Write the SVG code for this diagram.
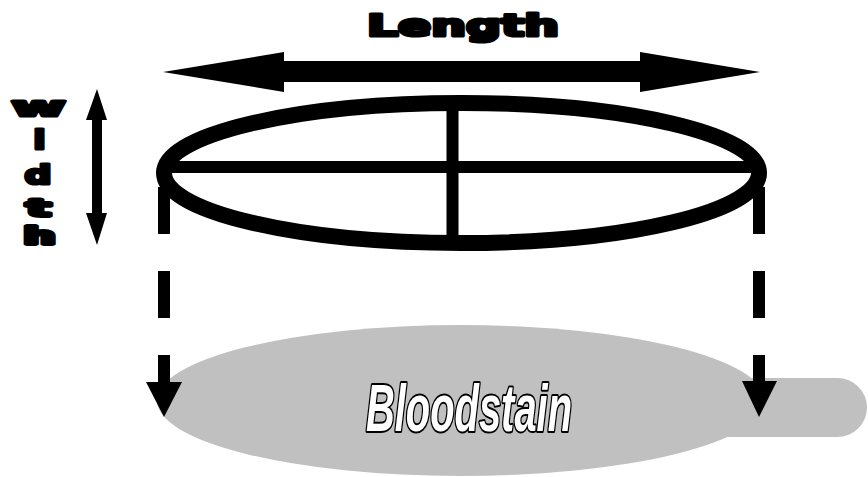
<svg xmlns="http://www.w3.org/2000/svg" width="868" height="477" viewBox="0 0 868 477">
  <style>
    .heavy { font-family: "DejaVu Sans", "Liberation Sans", sans-serif; font-weight: bold; fill: #000; stroke: #000; stroke-width: 3.2; stroke-linejoin: round; }
    .stain { fill: #c0c0c0; }
    .ink { fill: #000; }
    .dash { stroke: #000; stroke-width: 12; stroke-dasharray: 47 37; fill: none; }
    .label { font-family: "Liberation Sans", Arial, sans-serif; font-weight: bold; font-style: italic; fill: #fff; stroke: #000; stroke-width: 4; paint-order: stroke; stroke-linejoin: round; }
  </style>
  <rect width="868" height="477" fill="#fff"/>

  <g id="bloodstain">
    <ellipse class="stain" cx="461" cy="400.5" rx="304" ry="75.5"/>
    <rect class="stain" x="700" y="378" width="167" height="59" rx="29.5" ry="29.5"/>
    <text class="label" x="366" y="431" font-size="66" textLength="206" lengthAdjust="spacingAndGlyphs">Bloodstain</text>
  </g>

  <g id="drop-outline">
    <ellipse cx="461.5" cy="173" rx="297.5" ry="70" fill="none" stroke="#000" stroke-width="16"/>
    <rect class="ink" x="165" y="161" width="593" height="12"/>
    <rect class="ink" x="446.5" y="100" width="12" height="145"/>
  </g>

  <g id="length-label">
    <path class="ink" d="M163,72 L284,52 L284,61 L640,61 L640,52 L760,72 L640,92 L640,82 L284,82 L284,92 Z"/>
    <text class="heavy" x="367" y="36" font-size="30" textLength="192" lengthAdjust="spacingAndGlyphs">Length</text>
  </g>

  <g id="width-label">
    <path class="ink" d="M97,89 L107,120 L102,120 L102,213 L107,213 L97,245 L86,213 L92,213 L92,120 L86,120 Z"/>
    <text class="heavy" x="11.5" y="115.5" font-size="27" textLength="54" lengthAdjust="spacingAndGlyphs">w</text>
    <text class="heavy" x="33.5" y="148.5" font-size="27" textLength="12" lengthAdjust="spacingAndGlyphs">i</text>
    <text class="heavy" x="24.5" y="183.5" font-size="27" textLength="27" lengthAdjust="spacingAndGlyphs">d</text>
    <text class="heavy" x="26.5" y="215.5" font-size="23" textLength="24" lengthAdjust="spacingAndGlyphs" style="stroke-width:3.8">t</text>
    <text class="heavy" x="23.5" y="243.5" font-size="23" textLength="32" lengthAdjust="spacingAndGlyphs" style="stroke-width:3.8">h</text>
  </g>

  <g id="connectors">
    <line class="dash" x1="164" y1="187" x2="164" y2="386"/>
    <polygon class="ink" points="146,382 182,382 164,417"/>
    <line class="dash" x1="759" y1="187" x2="759" y2="386"/>
    <polygon class="ink" points="742,381 777,381 759,417"/>
  </g>
</svg>
